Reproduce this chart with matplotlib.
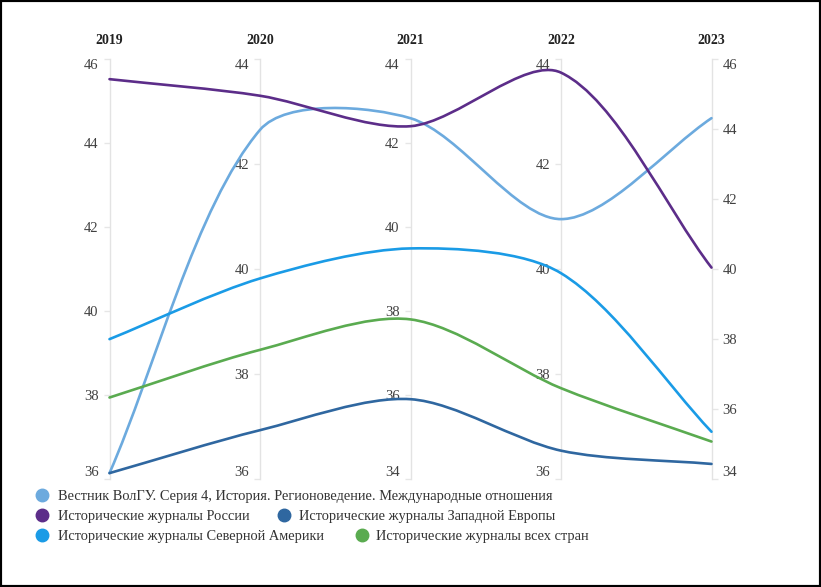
import matplotlib
matplotlib.use("Agg")
import matplotlib.pyplot as plt
from matplotlib.path import Path
from matplotlib.patches import PathPatch, Rectangle
from matplotlib.lines import Line2D

plt.rcParams['font.family'] = ['Liberation Serif', 'DejaVu Serif']

# axes of the parallel chart
years = ["2019", "2020", "2021", "2022", "2023"]
axis_min = [36, 36, 34, 36, 34]
axis_max = [46, 44, 44, 44, 46]
tick_step = 2

# series
series_names = [
    "Вестник ВолГУ. Серия 4, История. Регионоведение. Международные отношения",
    "Исторические журналы России",
    "Исторические журналы Западной Европы",
    "Исторические журналы Северной Америки",
    "Исторические журналы всех стран",
]
vestnik = [36.14, 42.65, 42.59, 40.95, 44.31]
russia = [45.52, 43.30, 42.40, 43.74, 40.04]
west_europe = [36.14, 36.93, 35.90, 36.54, 34.43]
north_america = [39.33, 39.82, 39.49, 39.92, 35.35]
all_countries = [37.94, 38.46, 37.80, 37.73, 35.07]
series_values = [vestnik, russia, west_europe, north_america, all_countries]
colors = ["#6caade", "#5c2d89", "#2f67a0", "#1a9be6", "#5aab50"]
# drawing order (last on top)
draw_order = [0, 2, 3, 4, 1]

TENSION = 0.3


def spline_path(xs, ys, sx, sy, t=TENSION):
    """Chart.js style spline; sx, sy give pixels per data unit"""
    n = len(xs)
    px = [x * sx for x in xs]
    py = [y * sy for y in ys]
    prev_c, next_c = [], []
    for i in range(n):
        a = max(i - 1, 0)
        b = min(i + 1, n - 1)
        d01 = ((px[i] - px[a]) ** 2 + (py[i] - py[a]) ** 2) ** 0.5
        d12 = ((px[b] - px[i]) ** 2 + (py[b] - py[i]) ** 2) ** 0.5
        tot = d01 + d12
        fa = t * d01 / tot if tot else 0.0
        fb = t * d12 / tot if tot else 0.0
        dx, dy = px[b] - px[a], py[b] - py[a]
        prev_c.append(((px[i] - fa * dx) / sx, (py[i] - fa * dy) / sy))
        next_c.append(((px[i] + fb * dx) / sx, (py[i] + fb * dy) / sy))
    verts = [(xs[0], ys[0])]
    codes = [Path.MOVETO]
    for i in range(1, n):
        verts += [next_c[i - 1], prev_c[i], (xs[i], ys[i])]
        codes += [Path.CURVE4] * 3
    return Path(verts, codes)


W, H = 821, 587
fig = plt.figure(figsize=(W / 100, H / 100), dpi=100)
ax = fig.add_axes([109.5 / W, 108 / H, 602 / W, 420 / H])
n_axes = len(years)
ax.set_xlim(0, n_axes - 1)
ax.set_ylim(0, 1)
for s in ax.spines.values():
    s.set_visible(False)
ax.set_yticks([])
ax.xaxis.tick_top()
ax.set_xticks(range(n_axes))
ax.set_xticklabels(years, fontsize=10, fontweight='bold', color='#222222')
ax.tick_params(axis='x', length=0, pad=8.5)

# one scale per year
for i in range(n_axes):
    lo, hi = axis_min[i], axis_max[i]
    sec = ax.secondary_yaxis(i / (n_axes - 1),
                             functions=(lambda t, lo=lo, hi=hi: lo + t * (hi - lo),
                                        lambda v, lo=lo, hi=hi: (v - lo) / (hi - lo)))
    sec.set_alignment('right' if i == n_axes - 1 else 'left')
    sec.set_yticks(list(range(lo, hi + 1, tick_step)))
    sec.tick_params(axis='y', length=4, width=1, color='#e6e6e6', pad=4,
                    labelsize=10.5, labelcolor='#404040')
    for sp in sec.spines.values():
        sp.set_color('#e3e3e3')
        sp.set_linewidth(1)
    labels = sec.yaxis.get_majorticklabels()
    labels[0].set_va('bottom')
    labels[-1].set_va('top')

# series lines
bbox = ax.get_window_extent()
sx = bbox.width / (n_axes - 1)
sy = bbox.height
for k in draw_order:
    xs = list(range(n_axes))
    ys = [(v - axis_min[i]) / (axis_max[i] - axis_min[i])
          for i, v in enumerate(series_values[k])]
    patch = PathPatch(spline_path(xs, ys, sx, sy), facecolor='none', edgecolor=colors[k],
                      linewidth=1.9, clip_on=False, zorder=3, capstyle='round')
    ax.add_patch(patch)

# legend laid out like the original (pixel positions of circle and text)
legend_pos = [(42, 58, 495), (42, 58, 515), (284, 299, 515), (42, 58, 535), (362, 376, 535)]
for k, (cx, tx, cy) in enumerate(legend_pos):
    fig.add_artist(Line2D([cx / W], [1 - cy / H], marker='o', markersize=9,
                          markerfacecolor=colors[k], markeredgecolor=colors[k],
                          linestyle='none', transform=fig.transFigure))
    fig.text(tx / W, 1 - cy / H, series_names[k], fontsize=10.4, color='#333333',
             va='center_baseline', ha='left')

fig.add_artist(Rectangle((0, 0), 1, 1, transform=fig.transFigure, fill=False,
                         edgecolor='black', linewidth=3))

fig.savefig("out.png", dpi=100)
